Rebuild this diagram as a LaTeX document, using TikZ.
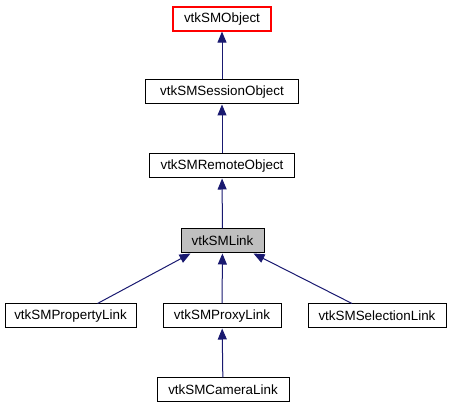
\documentclass[tikz,border=0pt]{standalone}
\usepackage{fontspec}
\setmainfont{Liberation Sans}
\usetikzlibrary{arrows.meta}
\definecolor{edgeblue}{HTML}{191970}
\definecolor{nodegray}{HTML}{BFBFBF}
\definecolor{rootred}{HTML}{FF0000}
\tikzset{
  cls/.style={draw=black, fill=white, line width=1pt, inner sep=0pt, minimum height=24pt, font=\fontsize{13.4pt}{15pt}\selectfont, text=black},
  rootcls/.style={cls, color=rootred, draw=rootred, fill=white, text=black, line width=1.2pt},
  inh/.style={draw=edgeblue, line width=1pt, -{Triangle[length=11pt,width=9pt,fill=edgeblue]}},
}
\begin{document}
\begin{tikzpicture}[x=1pt,y=-1pt]
\useasboundingbox (0,0) rectangle (451,411);
\node[rootcls, minimum width=98pt] (obj) at (222,19) {vtkSMObject};
\node[cls, minimum width=153pt] (sess) at (222,92) {vtkSMSessionObject};
\node[cls, minimum width=145pt] (rem) at (222,166) {vtkSMRemoteObject};
\node[cls, fill=nodegray, minimum width=83pt] (link) at (222.5,241) {vtkSMLink};
\node[cls, minimum width=131pt] (prop) at (70.5,316) {vtkSMPropertyLink};
\node[cls, minimum width=118pt] (proxy) at (222,316) {vtkSMProxyLink};
\node[cls, minimum width=138pt] (sel) at (377,316) {vtkSMSelectionLink};
\node[cls, minimum width=132pt] (cam) at (223,390) {vtkSMCameraLink};
\draw[inh] (sess) -- (obj);
\draw[inh] (rem) -- (sess);
\draw[inh] (link) -- (rem);
\draw[inh] ([xshift=27pt]prop.north) -- ([xshift=-32pt]link.south);
\draw[inh] (proxy) -- (link);
\draw[inh] ([xshift=-25pt]sel.north) -- ([xshift=31pt]link.south);
\draw[inh] (cam) -- (proxy);
\end{tikzpicture}
\end{document}
